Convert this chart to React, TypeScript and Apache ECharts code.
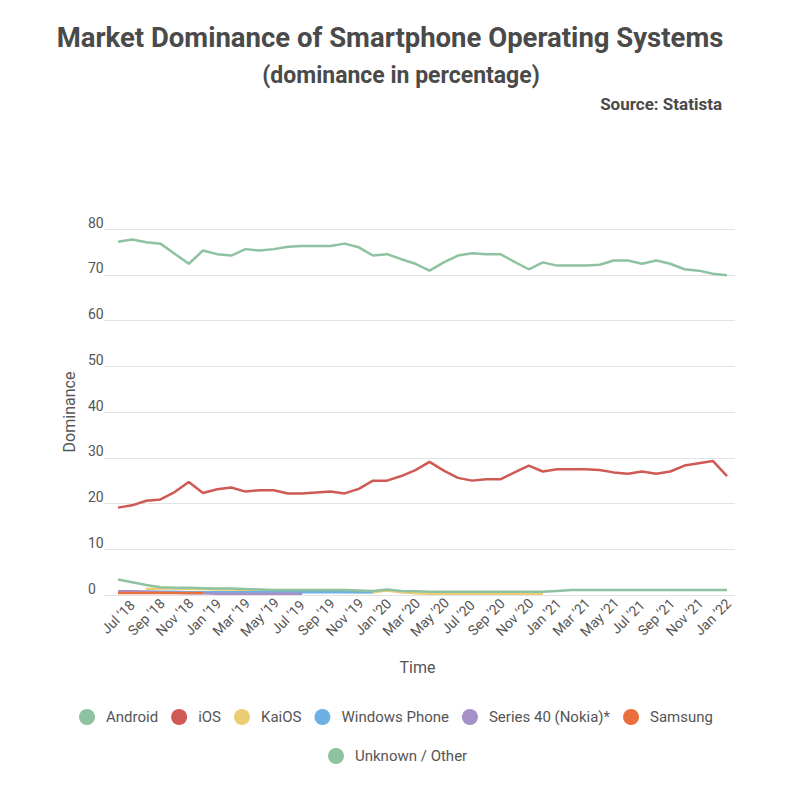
import React, { useEffect, useRef } from "react";
import * as echarts from "echarts";

const months = [
  "Jul '18", "Aug '18", "Sep '18", "Oct '18", "Nov '18", "Dec '18",
  "Jan '19", "Feb '19", "Mar '19", "Apr '19", "May '19", "Jun '19",
  "Jul '19", "Aug '19", "Sep '19", "Oct '19", "Nov '19", "Dec '19",
  "Jan '20", "Feb '20", "Mar '20", "Apr '20", "May '20", "Jun '20",
  "Jul '20", "Aug '20", "Sep '20", "Oct '20", "Nov '20", "Dec '20",
  "Jan '21", "Feb '21", "Mar '21", "Apr '21", "May '21", "Jun '21",
  "Jul '21", "Aug '21", "Sep '21", "Oct '21", "Nov '21", "Dec '21",
  "Jan '22", "Feb '22",
];

const android = [
  77.2, 77.7, 77.1, 76.8, 74.6, 72.4, 75.3, 74.5, 74.2, 75.6,
  75.3, 75.6, 76.1, 76.3, 76.3, 76.3, 76.8, 76.0, 74.2, 74.5,
  73.4, 72.4, 70.9, 72.7, 74.2, 74.7, 74.5, 74.5, 72.8, 71.2,
  72.7, 72.0, 72.0, 72.0, 72.2, 73.1, 73.1, 72.4, 73.1, 72.4,
  71.2, 70.9, 70.2, 69.9,
];

const ios = [
  19.1, 19.6, 20.6, 20.9, 22.5, 24.7, 22.3, 23.1, 23.5, 22.6,
  22.9, 22.9, 22.2, 22.2, 22.4, 22.6, 22.2, 23.2, 25.0, 25.0,
  26.0, 27.3, 29.1, 27.2, 25.6, 25.0, 25.3, 25.3, 26.8, 28.3,
  27.0, 27.5, 27.5, 27.5, 27.3, 26.8, 26.5, 27.0, 26.5, 27.0,
  28.3, 28.8, 29.3, 26.0,
];

const kaios = [
  null, null, 1.3, 1.4, 1.4, 1.3, 1.3, 1.2, 1.2, 1.1,
  1.0, 0.8, 0.8, 0.7, 0.7, 0.7, 0.7, 0.6, 0.6, 1.0,
  0.6, 0.4, 0.3, 0.3, 0.3, 0.3, 0.3, 0.3, 0.3, 0.3,
  0.3, null, null, null, null, null, null, null, null, null,
  null, null, null, null,
];

const windowsPhone = [
  0.7, 0.7, 0.7, 0.7, 0.7, 0.6, 0.6, 0.6, 0.6, 0.6,
  0.6, 0.6, 0.6, 0.6, 0.6, 0.6, 0.6, 0.6, 0.6, null,
  null, null, null, null, null, null, null, null, null, null,
  null, null, null, null, null, null, null, null, null, null,
  null, null, null, null,
];

const series40 = [
  0.8, 0.8, 0.7, 0.6, 0.5, 0.4, 0.4, 0.3, 0.3, 0.3,
  0.3, 0.3, 0.3, 0.3, null, null, null, null, null, null,
  null, null, null, null, null, null, null, null, null, null,
  null, null, null, null, null, null, null, null, null, null,
  null, null, null, null,
];

const samsung = [
  0.45, 0.45, 0.45, 0.45, 0.45, 0.45, 0.45, null, null, null,
  null, null, null, null, null, null, null, null, null, null,
  null, null, null, null, null, null, null, null, null, null,
  null, null, null, null, null, null, null, null, null, null,
  null, null, null, null,
];

const unknownOther = [
  3.4, 2.8, 2.2, 1.7, 1.6, 1.6, 1.5, 1.4, 1.4, 1.3,
  1.2, 1.1, 1.1, 1.1, 1.1, 1.1, 1.1, 1.0, 0.9, 1.2,
  0.9, 0.8, 0.7, 0.7, 0.7, 0.7, 0.7, 0.7, 0.7, 0.7,
  0.7, 0.9, 1.1, 1.1, 1.1, 1.1, 1.1, 1.1, 1.1, 1.1,
  1.1, 1.1, 1.1, 1.1,
];

const seriesDefs = [
  { name: "Android", data: android, color: "#8fc2a0" },
  { name: "iOS", data: ios, color: "#cf5a55" },
  { name: "KaiOS", data: kaios, color: "#ebcd74" },
  { name: "Windows Phone", data: windowsPhone, color: "#6cb1e3" },
  { name: "Series 40 (Nokia)*", data: series40, color: "#a590c8" },
  { name: "Samsung", data: samsung, color: "#ea6f3c" },
  { name: "Unknown / Other", data: unknownOther, color: "#8fc2a0" },
];

const FONT = "Roboto, 'Noto Sans', sans-serif";
const TEXT = "#4a4a4a";
const LABEL = "#555555";

export default function App() {
  const ref = useRef<HTMLDivElement>(null);

  useEffect(() => {
    if (!ref.current) return;
    const chart = echarts.init(ref.current, null, { renderer: "svg" });
    chart.setOption({
      animation: false,
      backgroundColor: "#ffffff",
      textStyle: { fontFamily: FONT },
      graphic: [
        {
          type: "text",
          x: 390,
          y: 37,
          style: {
            text: "Market Dominance of Smartphone Operating Systems",
            font: `bold 27.5px ${FONT}`,
            fill: TEXT,
            textAlign: "center",
            textVerticalAlign: "middle",
            align: "center",
            verticalAlign: "middle",
          },
        },
        {
          type: "text",
          x: 401,
          y: 75,
          style: {
            text: "(dominance in percentage)",
            font: `bold 23px ${FONT}`,
            fill: TEXT,
            textAlign: "center",
            textVerticalAlign: "middle",
            align: "center",
            verticalAlign: "middle",
          },
        },
        {
          type: "text",
          x: 722,
          y: 104,
          style: {
            text: "Source: Statista",
            font: `bold 17px ${FONT}`,
            fill: TEXT,
            textAlign: "right",
            textVerticalAlign: "middle",
            align: "right",
            verticalAlign: "middle",
          },
        },
      ],
      legend: [
        {
          data: seriesDefs.slice(0, 6).map((s) => s.name),
          left: 74,
          top: 704,
          icon: "circle",
          itemWidth: 16,
          itemHeight: 16,
          itemGap: 13,
          textStyle: { fontSize: 15, color: LABEL, fontFamily: FONT, padding: [0, 0, 0, 6] },
        },
        {
          data: [seriesDefs[6].name],
          left: 323,
          top: 743,
          icon: "circle",
          itemWidth: 16,
          itemHeight: 16,
          textStyle: { fontSize: 15, color: LABEL, fontFamily: FONT, padding: [0, 0, 0, 6] },
        },
      ],
      grid: [
        { left: 104, right: 65, top: 229, bottom: 190 },
        { left: 118, right: 73, top: 229, bottom: 190 },
      ],
      xAxis: [
        { gridIndex: 0, type: "value", show: false, min: 0, max: 1 },
        {
          gridIndex: 1,
          type: "category",
          data: months,
          boundaryGap: false,
          axisLine: { show: false },
          axisTick: { show: false },
          axisLabel: {
            interval: 1,
            rotate: 45,
            align: "center",
            verticalAlign: "middle",
            margin: 22,
            fontSize: 14,
            color: LABEL,
            fontFamily: FONT,
          },
          name: "Time",
          nameLocation: "middle",
          nameGap: 64,
          nameTextStyle: { fontSize: 16, color: LABEL, fontFamily: FONT, padding: [0, 10, 0, 0] },
        },
      ],
      yAxis: [
        {
          gridIndex: 0,
          type: "value",
          min: 0,
          max: 80,
          interval: 10,
          axisLine: { show: false },
          axisTick: { show: false },
          axisLabel: {
            align: "left",
            verticalAlign: "bottom",
            margin: 16,
            fontSize: 14,
            lineHeight: 13,
            color: LABEL,
            fontFamily: FONT,
          },
          splitLine: { lineStyle: { color: "#e3e3e3", width: 1 } },
          name: "Dominance",
          nameLocation: "middle",
          nameGap: 22,
          nameTextStyle: { fontSize: 16, color: LABEL, fontFamily: FONT },
        },
        { gridIndex: 1, type: "value", min: 0, max: 80, show: false },
      ],
      series: seriesDefs.map((s) => ({
        name: s.name,
        type: "line",
        xAxisIndex: 1,
        yAxisIndex: 1,
        data: s.data,
        showSymbol: false,
        symbol: "none",
        lineStyle: { color: s.color, width: 2.5 },
        itemStyle: { color: s.color },
        emphasis: { disabled: true },
      })),
    });
    return () => chart.dispose();
  }, []);

  return (
    <div
      ref={ref}
      style={{ position: "fixed", left: 0, top: 0, width: 800, height: 785, background: "#fff" }}
    />
  );
}
